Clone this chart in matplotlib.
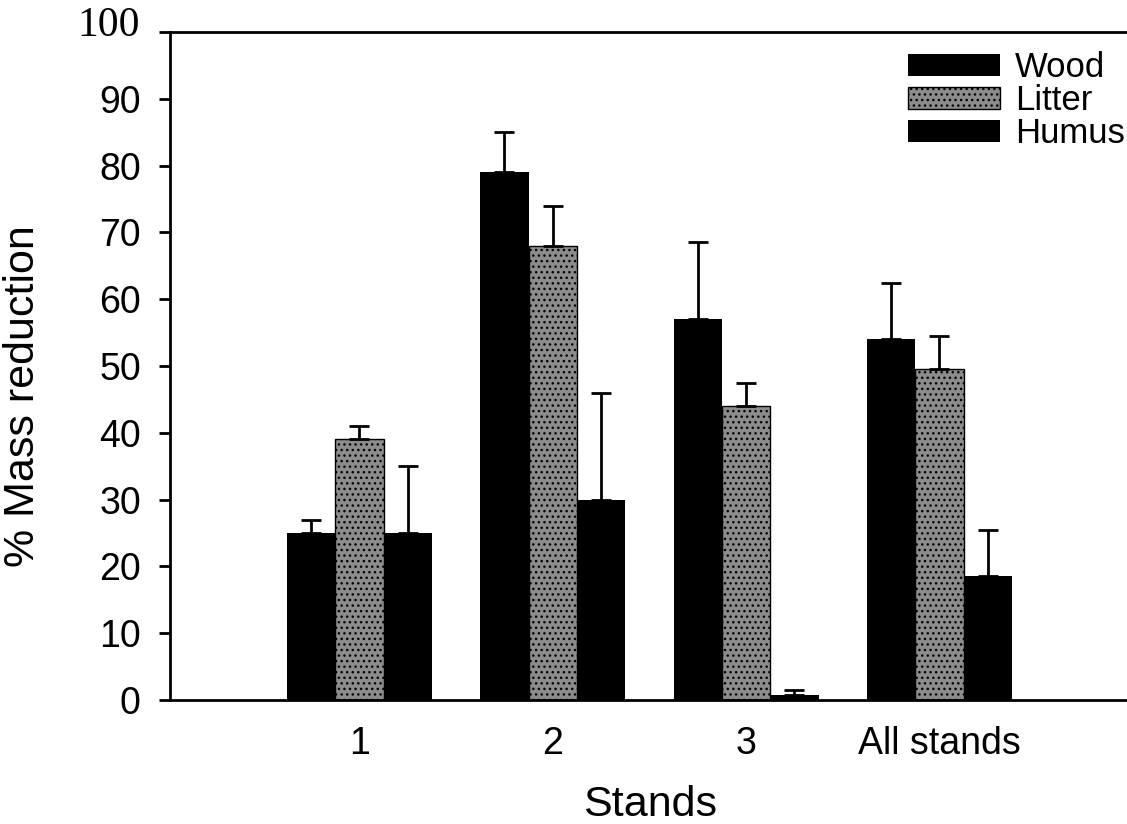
import numpy as np
import matplotlib
matplotlib.use("Agg")
from matplotlib import pyplot as plt

# values
stands = ["1", "2", "3", "All stands"]
wood = [25, 79, 57, 54]
wood_err = [2, 6, 11.5, 8.5]
litter = [39, 68, 44, 49.5]
litter_err = [2, 6, 3.5, 5]
humus = [25, 30, 0.7, 18.5]
humus_err = [10, 16, 0.8, 7]

plt.rcParams["font.family"] = ["Liberation Sans", "DejaVu Sans"]

fig = plt.figure(figsize=(11.27, 8.24), dpi=100)
ax = fig.add_axes([170 / 1127, 1 - 700 / 824, 957 / 1127, 668 / 824])

x = np.arange(len(stands))
w = 0.25
ekw = dict(elinewidth=2, capthick=2, ecolor="black")
ax.bar(x - w, wood, w, color="black", label="Wood",
       yerr=[np.zeros(4), wood_err], capsize=7, error_kw=ekw)
ax.bar(x, litter, w, color="#8c8c8c", edgecolor="black", linewidth=1, hatch="...",
       label="Litter", yerr=[np.zeros(4), litter_err], capsize=7, error_kw=ekw)
ax.bar(x + w, humus, w, color="black", label="Humus",
       yerr=[np.zeros(4), humus_err], capsize=7, error_kw=ekw)

ax.set_xlim(-0.98, 3.97)
ax.set_ylim(0, 100)
ax.set_yticks(range(0, 101, 10))
labels = [str(v) for v in range(0, 100, 10)] + [""]
ax.set_yticklabels(labels, fontsize=27)
ax.text(-0.031, 100.9, "100", transform=ax.get_yaxis_transform(), ha="right",
        va="center", fontsize=30, family="Liberation Serif")
ax.set_xticks(x)
ax.set_xticklabels(stands, fontsize=27)
ax.tick_params(axis="x", length=0, pad=19)
ax.tick_params(axis="y", length=8, width=2, direction="out", pad=13)

ax.spines["right"].set_visible(False)
for s in ["left", "top", "bottom"]:
    ax.spines[s].set_linewidth(2)

ax.set_xlabel("Stands", fontsize=31)
ax.xaxis.set_label_coords(0.5016, -0.127)
ax.set_ylabel("% Mass reduction", fontsize=31)
ax.yaxis.set_label_coords(-0.133, 0.455)

ax.legend(loc="upper left", frameon=False, fontsize=25, handlelength=2.65,
          handleheight=0.6, handletextpad=0.43, labelspacing=0.0,
          borderpad=0.0, borderaxespad=0.0, bbox_to_anchor=(0.771, 0.9716))

plt.savefig("out.png", dpi=100)
